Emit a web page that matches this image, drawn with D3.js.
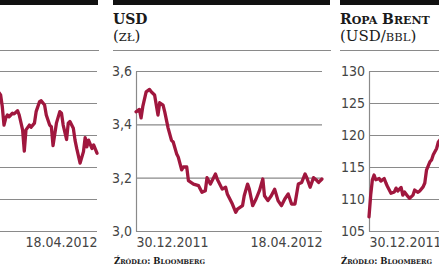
<!DOCTYPE html>
<html>
<head>
<meta charset="utf-8">
<script src="https://cdn.jsdelivr.net/npm/d3@7"></script>
<style>
  body { margin: 0; background: #fff; }
  svg { display: block; }
</style>
</head>
<body>
<svg id="chart"></svg>
<script>
var width = 439;
var height = 268;

// days counted from 30.12.2011
var eurDays = [51,53,54,55,56,57,58,60,61,63,64,66,67,68,70,71,73,74,76,77,79,80,82,83,84,86,88,89,90,92,93,94,96,97,98,100,102,103,104,105,107,108,110];
var eurValues = [4.44,4.425,4.388,4.331,4.352,4.3625,4.357,4.368,4.366,4.376,4.3625,4.316,4.25,4.316,4.331,4.324,4.337,4.373,4.404,4.407,4.394,4.3625,4.331,4.326,4.267,4.337,4.373,4.368,4.331,4.286,4.337,4.342,4.321,4.284,4.258,4.212,4.248,4.292,4.263,4.284,4.258,4.269,4.243];
var eurTicks = [4.0, 4.1, 4.2, 4.3, 4.4, 4.5];

var usdDays = [0,2,3,4,6,8,9,11,13,14,16,17,19,21,22,24,25,27,28,30,31,34,37,39,41,42,44,47,48,51,53,54,57,59,60,63,64,66,67,69,71,73,75,76,78,80,82,84,86,88,90,92,94,96,98,100,101,103,105,107,108,110];
var usdValues = [3.447,3.456,3.424,3.466,3.522,3.531,3.522,3.51,3.435,3.481,3.472,3.447,3.386,3.34,3.334,3.29,3.277,3.229,3.24,3.24,3.189,3.176,3.17,3.145,3.151,3.2,3.176,3.214,3.195,3.157,3.164,3.139,3.101,3.07,3.082,3.095,3.132,3.176,3.157,3.095,3.12,3.151,3.195,3.132,3.114,3.132,3.157,3.114,3.095,3.12,3.139,3.101,3.101,3.176,3.182,3.214,3.2,3.164,3.2,3.189,3.182,3.195];
var usdTicks = [3.0, 3.2, 3.4, 3.6];

var brentDays = [0,1,2,3,4,6,7,9,10,11,13,15,16,17,19,20,21,23,24,26,27,29,30,32,33,34,36,37,38,40,41,43];
var brentValues = [107.2,110.6,113.0,113.75,113.0,113.2,112.8,113.2,112.5,111.9,110.9,111.1,111.7,111.25,111.8,110.6,111.1,110.4,110.1,110.6,111.4,111.05,111.25,111.9,112.5,114.5,115.8,116.1,116.9,117.9,118.9,119.6];
var brentTicks = [105, 110, 115, 120, 125, 130];

var dayRange = [0, 110];
var dateLabels = ["30.12.2011", "18.04.2012"];

var sansFont = "'Liberation Sans Narrow', 'DejaVu Sans Condensed', 'Roboto', sans-serif";
var serifFont = "'DejaVu Serif', 'Liberation Serif', serif";
var lineColor = "#a0173e";
var gridColor = "#8a8a8a";

var svg = d3.select("#chart")
            .attr("width", width)
            .attr("height", height);

// panel layout; the outer two are cut by the page edges
var panels = [
  { days: eurDays, values: eurValues, ticks: eurTicks, fmt: "",
    boxLeft: -120, boxRight: 98, left: -89, right: 97,
    title: null, unit: null, labels: [false, true] },
  { days: usdDays, values: usdValues, ticks: usdTicks, fmt: ".1f",
    boxLeft: 113, boxRight: 330, left: 136, right: 322,
    title: [["USD", 14]], unit: [["(", 15], ["ZŁ", 11.5], [")", 15]], labels: [true, true] },
  { days: brentDays, values: brentValues, ticks: brentTicks, fmt: "d",
    boxLeft: 340, boxRight: 557, left: 369, right: 555,
    title: [["R", 14], ["OPA", 11], [" B", 14], ["RENT", 11]],
    unit: [["(USD/", 15], ["BBL", 11.5], [")", 15]], labels: [true, false] }
];

function addRuns(sel, runs) {
  runs.forEach(function(r) {
    sel.append("tspan").attr("font-size", r[1]).text(r[0]);
  });
}

panels.forEach(function(p) {
  var g = svg.append("g");

  var x = d3.scaleLinear().domain(dayRange).range([p.left, p.right]);
  var y = d3.scaleLinear().domain(d3.extent(p.ticks)).range([231, 71]);

  // black header bar and rule under the title
  g.append("rect")
    .attr("x", p.boxLeft).attr("y", 0)
    .attr("width", p.boxRight - p.boxLeft).attr("height", 5)
    .attr("fill", "#111");
  g.append("line")
    .attr("x1", p.boxLeft).attr("x2", p.boxRight + 1)
    .attr("y1", 50.5).attr("y2", 50.5)
    .attr("stroke", gridColor).attr("stroke-width", 1.2);

  if (p.title) {
    var t = g.append("text")
      .attr("x", p.boxLeft).attr("y", 24)
      .attr("font-family", serifFont).attr("font-weight", "bold")
      .attr("fill", "#1a1a1a");
    addRuns(t, p.title);
    var u = g.append("text")
      .attr("x", p.boxLeft).attr("y", 41)
      .attr("font-family", serifFont)
      .attr("fill", "#1a1a1a");
    addRuns(u, p.unit);

    var s = g.append("text")
      .attr("x", p.boxLeft + 1).attr("y", 264)
      .attr("font-family", serifFont).attr("font-weight", "bold")
      .attr("fill", "#1a1a1a");
    addRuns(s, [["Ź", 8.5], ["RÓDŁO", 6.5], [": B", 8.5], ["LOOMBERG", 6.5]]);
  }

  // gridlines + y axis
  var yAxis = d3.axisLeft(y)
    .tickValues(p.ticks)
    .tickSize(-(p.right - p.left))
    .tickSizeOuter(0)
    .tickPadding(4)
    .tickFormat(function(d) {
      if (p.fmt === "") return "";
      return d3.format(p.fmt)(d).replace(".", ",");
    });

  var ya = g.append("g")
    .attr("transform", "translate(" + p.left + ",0)")
    .call(yAxis);
  ya.select(".domain").attr("stroke", gridColor).attr("stroke-width", 1.2);
  ya.selectAll(".tick line").attr("stroke", gridColor).attr("stroke-width", 1.2);
  ya.selectAll(".tick text")
    .attr("font-family", sansFont)
    .attr("font-size", 14)
    .attr("fill", "#444");

  // date labels at both ends (only those that fall on the page)
  var shown = dayRange.filter(function(d, i) { return p.labels[i]; });
  var xAxis = d3.axisBottom(x)
    .tickValues(shown)
    .tickSize(0)
    .tickPadding(0)
    .tickFormat(function(d) { return dateLabels[dayRange.indexOf(d)]; });

  var xa = g.append("g")
    .attr("transform", "translate(0,237)")
    .call(xAxis);
  xa.select(".domain").remove();
  xa.selectAll(".tick text")
    .attr("font-family", sansFont)
    .attr("font-size", 14)
    .attr("fill", "#444")
    .attr("dy", "0.71em")
    .attr("text-anchor", function(d) { return d === dayRange[0] ? "start" : "end"; });

  var line = d3.line()
    .x(function(d, i) { return x(p.days[i]); })
    .y(function(d) { return y(d); });

  g.append("path")
    .datum(p.values)
    .attr("d", line)
    .attr("fill", "none")
    .attr("stroke", lineColor)
    .attr("stroke-width", 3.3)
    .attr("stroke-linejoin", "round")
    .attr("stroke-linecap", "round");
});
</script>
</body>
</html>
